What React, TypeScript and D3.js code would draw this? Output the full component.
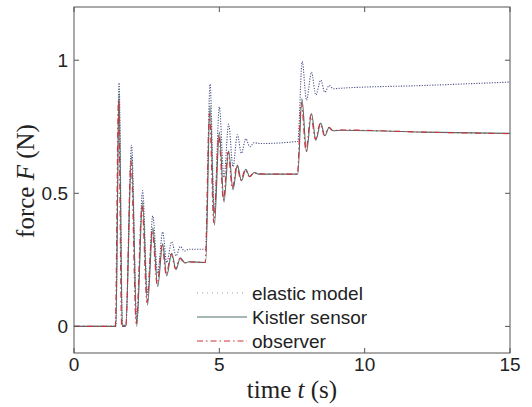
import React from 'react'
import * as d3 from 'd3'

type Pt = [number, number]

// [time (s), force (N)]
const elasticModel: Pt[] = [
  [0, 0], [1.44, 0], [1.55, 0.915], [1.67, 0.0], [1.78, 0.0], [1.98, 0.68],
  [2.16, 0.02], [2.36, 0.51], [2.53, 0.12], [2.71, 0.415], [2.88, 0.2],
  [3.05, 0.355], [3.19, 0.24], [3.36, 0.318], [3.51, 0.265], [3.66, 0.3],
  [3.8, 0.283], [3.95, 0.29], [4.53, 0.29], [4.68, 0.91], [4.83, 0.43],
  [5.0, 0.825], [5.16, 0.56], [5.32, 0.76], [5.47, 0.6], [5.62, 0.72],
  [5.76, 0.65], [5.91, 0.705], [6.05, 0.675], [6.2, 0.69], [6.4, 0.687],
  [7.7, 0.695], [7.85, 0.995], [8.0, 0.85], [8.17, 0.955], [8.32, 0.87],
  [8.49, 0.925], [8.63, 0.88], [8.78, 0.905], [8.92, 0.893], [9.2, 0.895],
  [12, 0.905], [15, 0.918]
]

const kistlerSensor: Pt[] = [
  [0, 0], [1.44, 0], [1.55, 0.875], [1.66, 0.0], [1.72, 0.005], [1.78, 0.0],
  [1.98, 0.64], [2.16, 0.0], [2.36, 0.47], [2.53, 0.08], [2.71, 0.37],
  [2.88, 0.15], [3.05, 0.31], [3.19, 0.19], [3.36, 0.275], [3.51, 0.214],
  [3.66, 0.258], [3.82, 0.238], [3.95, 0.243], [4.53, 0.24], [4.68, 0.83],
  [4.83, 0.38], [5.0, 0.73], [5.16, 0.467], [5.32, 0.66], [5.47, 0.514],
  [5.62, 0.606], [5.76, 0.547], [5.91, 0.59], [6.05, 0.562], [6.2, 0.578],
  [6.35, 0.572], [7.7, 0.572], [7.84, 0.856], [8.0, 0.656], [8.17, 0.8],
  [8.32, 0.7], [8.49, 0.764], [8.63, 0.716], [8.78, 0.748], [8.92, 0.735],
  [9.2, 0.737], [12, 0.73], [15, 0.725]
]

const observer: Pt[] = [
  [0, 0], [1.42, 0], [1.53, 0.85], [1.64, 0.0], [1.78, 0.0], [1.96, 0.62],
  [2.14, 0.01], [2.34, 0.455], [2.51, 0.09], [2.69, 0.36], [2.86, 0.16],
  [3.03, 0.305], [3.17, 0.195], [3.34, 0.272], [3.49, 0.217], [3.64, 0.256],
  [3.8, 0.238], [3.95, 0.242], [4.51, 0.24], [4.66, 0.8], [4.81, 0.39],
  [4.98, 0.72], [5.14, 0.475], [5.3, 0.655], [5.45, 0.52], [5.6, 0.603],
  [5.74, 0.55], [5.89, 0.588], [6.03, 0.563], [6.2, 0.577], [6.35, 0.573],
  [7.68, 0.572], [7.82, 0.84], [7.98, 0.66], [8.15, 0.795], [8.3, 0.703],
  [8.47, 0.762], [8.61, 0.718], [8.76, 0.747], [8.9, 0.735], [9.2, 0.738],
  [12, 0.73], [15, 0.724]
]

const xTicks = [0, 5, 10, 15]
const yTicks = [0, 0.5, 1]
const legendLabels = ['elastic model', 'Kistler sensor', 'observer']

const W = 532
const H = 407
const left = 74
const right = 510
const top = 7
const bottom = 353

const x = d3.scaleLinear().domain([0, 15]).range([left, right])
const y = d3.scaleLinear().domain([-0.1, 1.2]).range([bottom, top])

const line = d3
  .line<Pt>()
  .x(d => x(d[0]))
  .y(d => y(d[1]))
  .curve(d3.curveMonotoneX)

const styles = [
  { stroke: '#4d5288', dash: '1.2,1.4', width: 1.1 },
  { stroke: '#4f6f6a', dash: undefined, width: 1.1 },
  { stroke: '#d0303a', dash: '6,3,1.5,3', width: 1.1 }
]
const series = [elasticModel, kistlerSensor, observer]

const tickFont = '"Liberation Sans", Arial, sans-serif'
const labelFont = '"Liberation Serif", "Times New Roman", serif'

export default function App() {
  const tl = 5
  return (
    <svg
      width={W}
      height={H}
      style={{ position: 'absolute', left: 0, top: 0, background: '#fff' }}
    >
      <rect x={0} y={0} width={W} height={H} fill="#fff" />
      <defs>
        <clipPath id="plot">
          <rect x={left} y={top} width={right - left} height={bottom - top} />
        </clipPath>
      </defs>
      <g clipPath="url(#plot)">
        {series.map((s, i) => (
          <path
            key={i}
            d={line(s) || ''}
            fill="none"
            stroke={styles[i].stroke}
            strokeWidth={styles[i].width}
            strokeDasharray={styles[i].dash}
          />
        ))}
      </g>
      <rect
        x={left}
        y={top}
        width={right - left}
        height={bottom - top}
        fill="none"
        stroke="#555"
        strokeWidth={1}
      />
      {xTicks.map(t => (
        <g key={'x' + t}>
          <line x1={x(t)} x2={x(t)} y1={bottom} y2={bottom - tl} stroke="#555" />
          <line x1={x(t)} x2={x(t)} y1={top} y2={top + tl} stroke="#555" />
          <text
            x={x(t)}
            y={371}
            textAnchor="middle"
            fontFamily={tickFont}
            fontSize={19}
            fill="#222"
          >
            {t}
          </text>
        </g>
      ))}
      {yTicks.map(t => (
        <g key={'y' + t}>
          <line x1={left} x2={left + tl} y1={y(t)} y2={y(t)} stroke="#555" />
          <line x1={right} x2={right - tl} y1={y(t)} y2={y(t)} stroke="#555" />
          <text
            x={68}
            y={y(t)}
            dy="0.35em"
            textAnchor="end"
            fontFamily={tickFont}
            fontSize={19}
            fill="#222"
          >
            {t}
          </text>
        </g>
      ))}
      <text
        x={(left + right) / 2}
        y={398}
        textAnchor="middle"
        fontFamily={labelFont}
        fontSize={25}
        fill="#222"
      >
        time <tspan fontStyle="italic">t</tspan> (s)
      </text>
      <text
        transform={`translate(34,181) rotate(-90)`}
        textAnchor="middle"
        fontFamily={labelFont}
        fontSize={25}
        fill="#222"
      >
        force <tspan fontStyle="italic">F</tspan> (N)
      </text>
      {legendLabels.map((l, i) => {
        const ly = 293 + i * 24
        return (
          <g key={l}>
            <line
              x1={197}
              x2={247}
              y1={ly}
              y2={ly}
              stroke={i === 0 ? '#9a9cb0' : styles[i].stroke}
              strokeWidth={1.1}
              strokeDasharray={i === 0 ? '1,4' : styles[i].dash}
            />
            <text
              x={252}
              y={ly}
              dy="0.35em"
              fontFamily={tickFont}
              fontSize={19}
              fill="#222"
            >
              {l}
            </text>
          </g>
        )
      })}
    </svg>
  )
}
